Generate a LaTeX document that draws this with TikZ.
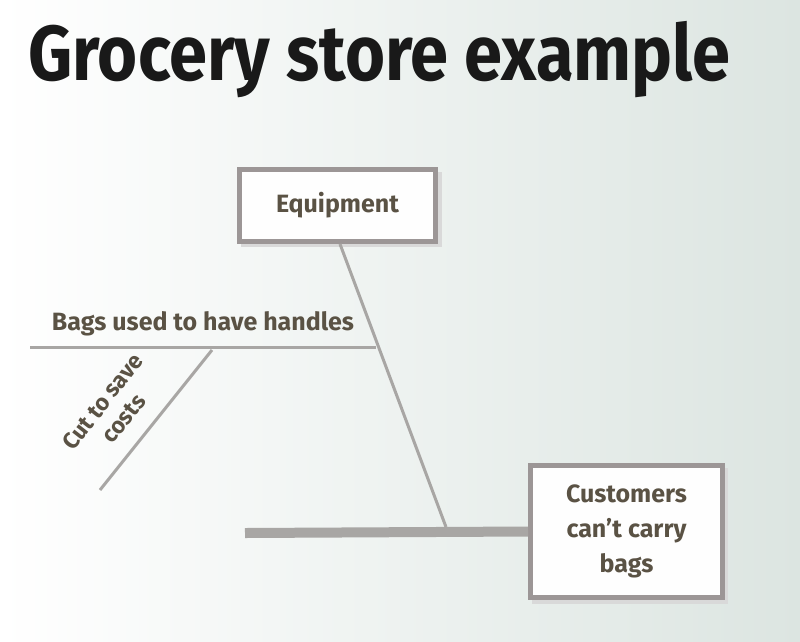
\documentclass[tikz,border=0pt]{standalone}
\usepackage{fontspec}
\setmainfont{Fira Sans}
\usetikzlibrary{calc}
\definecolor{txt}{HTML}{5A5244}
\definecolor{ln}{HTML}{A8A6A4}
\definecolor{bx}{HTML}{9C9696}
\definecolor{bgr}{HTML}{DCE5E1}
\tikzset{
  lbl/.style={text=txt,font=\fontsize{25}{35}\selectfont\bfseries},
  boxframe/.style={draw=bx,line width=5pt,fill=white!97!bgr},
  bone/.style={draw=ln,line width=3pt},
}
\begin{document}
\begin{tikzpicture}[x=1pt,y=-1pt]
\shade[left color=white,right color=bgr] (0,0) rectangle (800,641);
\useasboundingbox (0,0) rectangle (800,641);
\node[anchor=base west,inner sep=0,text=black!90,font=\fontsize{78}{80}\selectfont\bfseries,xscale=0.88] (title) at (28,80) {Grocery store example};
% boxes
\fill[black!15] (241,172) rectangle (442,247);
\node[boxframe,minimum width=196pt,minimum height=72pt,anchor=north west] (equip) at (237,167) {};
\node[lbl] (equipt) at (equip.center) {Equipment};
\fill[black!15] (532,468) rectangle (728,604);
\node[boxframe,minimum width=192pt,minimum height=132pt,anchor=north west] (cust) at (528,463) {};
\node[lbl,align=center] (custt) at (cust.center) {Customers\\can’t carry\\bags};
% bones
\coordinate (s1) at (340,244);
\coordinate (s2) at (446,527);
\coordinate (h1) at (30,347);
\coordinate (h2) at (376,347);
\coordinate (d1) at (212,350);
\coordinate (d2) at (100,490);
\coordinate (m1) at (245,533);
\draw[bone] (s1) -- (s2);
\draw[bone] (h1) -- (h2);
\draw[bone] (d1) -- (d2);
\draw[draw=ln,line width=10pt] (m1) -- (cust.west);
\node[lbl,anchor=base] (bagt) at (203,330) {Bags used to have handles};
\node[lbl,align=center,rotate=52,font=\fontsize{23}{27}\selectfont\bfseries] (cutt) at (113,410) {Cut to save\\costs};
\end{tikzpicture}
\end{document}
